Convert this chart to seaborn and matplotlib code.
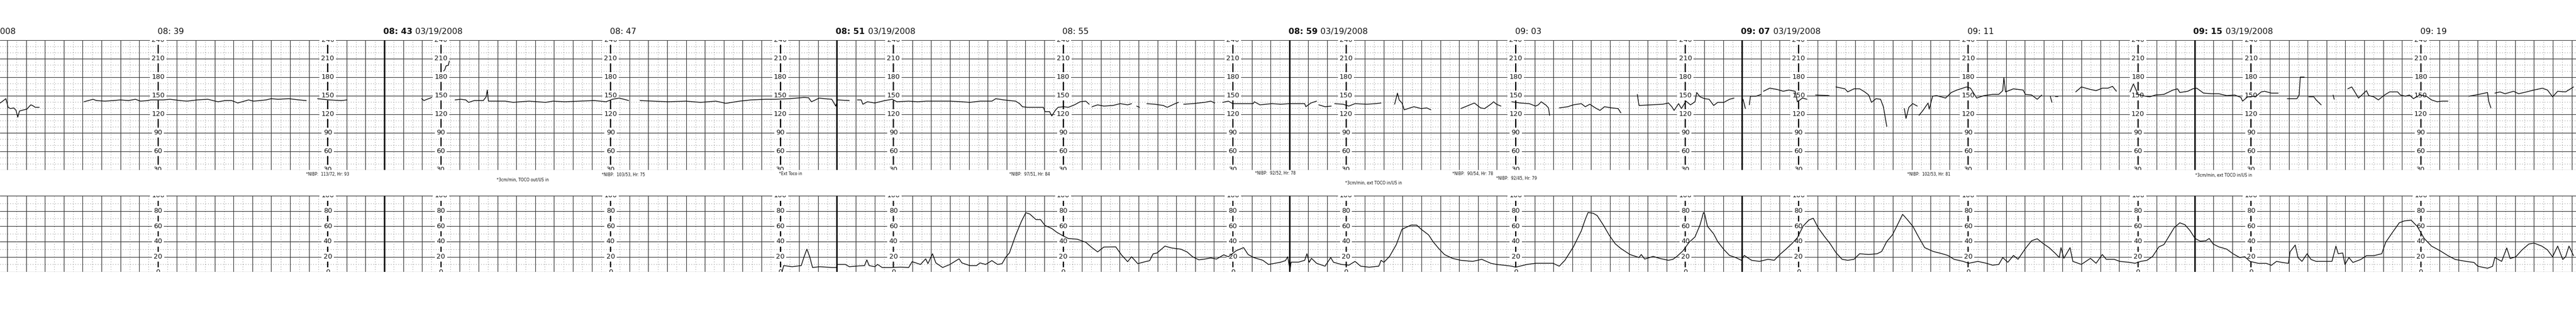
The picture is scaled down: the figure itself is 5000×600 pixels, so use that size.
import numpy as np
import pandas as pd
import matplotlib
matplotlib.use("Agg")
import matplotlib.pyplot as plt
import seaborn as sns

nan = np.nan

# ---------------- data (minutes after 08:00) ----------------
fhr_time = [
    36.21, 36.31, 36.35, 36.39, 36.45, 36.49, 36.52, 36.55, 36.59, 36.63, 36.68, 36.71, 36.75, 36.78, 36.83, 36.90, nan,
    37.69, 37.85, 37.91, 38.06, 38.21, 38.33, 38.48, 38.60, 38.69, 38.82, 38.87, 39.09, 39.21, 39.39, 39.51, 39.69,
    39.88, 40.06, 40.19, 40.30, 40.41, 40.60, 40.69, 40.91, 41.00, 41.12, 41.31, 41.49, 41.62, nan,
    41.82, 42.02, 42.24, 42.34, nan,
    43.66, 43.70, 43.84, nan,
    44.05, 44.07, 44.09, 44.13, 44.15, nan,
    44.25, 44.35, 44.44, 44.49, 44.59, 44.68, 44.75, 44.80, 44.82, 44.84, 44.99, 45.14, 45.28, 45.40, 45.56, 45.71,
    45.85, 45.98, 46.19, 46.45, 46.71, 46.92, 47.03, 47.15, 47.32, nan,
    47.52, 47.75, 48.02, 48.33, 48.59, 48.86, 49.04, 49.28, 49.48, 49.74, 49.90, 50.16, 50.42, 50.50, 50.55, 50.69,
    50.78, 50.91, 50.98, 51.01, 51.22, nan,
    51.36, 51.43, 51.46, 51.54, 51.67, 51.85, 51.98, 52.06, 52.27, 52.43, 52.58, 52.79, 53.00, 53.21, 53.35, 53.53,
    53.74, 53.81, 53.95, 54.05, 54.16, 54.23, 54.28, 54.37, 54.49, 54.60, 54.65, 54.68, 54.76, 54.80, 54.86, 54.91,
    55.01, 55.09, 55.20, 55.30, 55.40, 55.46, nan,
    55.51, 55.61, 55.72, 55.88, 56.01, 56.14, 56.21, nan,
    56.30, 56.35, nan,
    56.48, 56.62, 56.77, 56.84, 56.98, 57.04, nan,
    57.13, 57.29, 57.50, 57.61, 57.68, nan,
    57.82, 57.92, 58.00, 58.06, 58.36, 58.38, 58.48, 58.69, 58.85, 59.00, 59.11, 59.27, 59.29, 59.38, 59.48, nan,
    59.52, 59.63, 59.74, nan,
    59.80, 59.95, 60.05, 60.16, 60.37, 60.52, 60.62, nan,
    60.86, 60.91, 60.94, 60.99, 61.03, 61.20, 61.33, 61.43, 61.50, nan,
    62.03, 62.19, 62.27, 62.38, 62.45, 62.56, 62.61, 62.66, 62.74, nan,
    62.93, 63.08, 63.24, 63.35, 63.40, 63.45, 63.53, 63.58, 63.60, nan,
    63.77, 63.92, 64.02, 64.16, 64.23, 64.31, 64.41, 64.49, 64.57, 64.70, 64.81, 64.86, nan,
    65.15, 65.18, 65.39, 65.60, 65.70, 65.76, 65.80, 65.88, 65.93, 66.01, 66.09, 66.17, 66.20, 66.26, 66.34, 66.42,
    66.50, 66.57, 66.68, 66.78, 66.86, nan,
    67.02, 67.06, nan,
    67.13, 67.15, 67.25, 67.34, nan,
    67.38, 67.49, 67.62, 67.73, 67.83, 67.94, 67.98, 68.07, 68.15, nan,
    68.30, 68.54, nan,
    68.66, 68.82, 68.87, 68.98, 69.08, 69.17, 69.24, 69.29, 69.37, 69.45, 69.50, 69.56, nan,
    69.87, 69.90, 69.95, 70.02, 70.10, nan,
    70.13, 70.20, 70.29, 70.31, 70.37, 70.44, 70.60, 70.70, 70.80, 70.97, 71.04, 71.15, 71.28, 71.43, 71.54, 71.61,
    71.63, 71.66, 71.80, 71.97, 72.01, 72.12, 72.22, 72.30, nan,
    72.45, 72.48, nan,
    72.54, 72.58, nan,
    72.90, 73.00, 73.16, 73.26, 73.37, 73.47, 73.55, 73.62, nan,
    73.86, 73.92, 74.00, 74.13, 74.21, 74.31, 74.46, 74.62, 74.70, 74.74, 74.88, 74.97, 75.04, 75.16, 75.30, 75.43,
    75.57, 75.71, 75.82, 75.85, 75.94, 76.09, 76.18, 76.24, 76.36, 76.48, nan,
    76.64, 76.81, 76.85, 76.87, 76.94, nan,
    77.02, 77.11, 77.15, 77.24, nan,
    77.45, 77.47, nan,
    77.71, 77.78, 77.90, 78.04, 78.08, 78.17, 78.25, 78.36, 78.45, 78.59, 78.64, 78.73, 78.80, 78.87, 78.98, 79.10,
    79.19, 79.29, 79.38, 79.48, nan,
    79.85, 80.03, 80.18, 80.20, 80.24, nan,
    80.31, 80.40, 80.49, 80.64, 80.73, 80.87, 81.00, 81.15, 81.24, 81.33, 81.42, 81.56, 81.70,
]
fhr_bpm = [
    138, 145, 131, 129, 130, 126, 115, 125, 126, 127, 128, 131, 135, 134, 131, 131, nan,
    140, 144, 142, 141, 142, 143, 142, 144, 141, 142, 143, 143, 144, 142, 141, 143,
    144, 140, 142, 142, 138, 143, 141, 143, 145, 144, 145, 143, 142, nan,
    145, 143, 142, 143, nan,
    145, 142, 147, nan,
    190, 192, 198, 199, 206, nan,
    143, 144, 143, 139, 142, 142, 142, 148, 159, 141, 141, 141, 139, 140, 141, 140,
    139, 141, 140, 141, 142, 140, 144, 146, 142, nan,
    142, 141, 140, 141, 139, 141, 137.5, 141, 143, 144, 144, 145, 147, 146.5, 140, 146,
    145, 144, 133, 143, 142, nan,
    143, 143, 136, 140, 138, 142, 144, 140, 141, 140, 141, 141, 141, 140, 139, 141,
    141, 145, 143, 142, 141, 137, 132, 131, 131, 131, 131, 124, 124, 117, 126, 131,
    132, 131, 135, 140, 141, 136, nan,
    132, 135, 133, 134, 137, 135, 137, nan,
    133, 131, nan,
    137, 136, 134, 131, 137, 139, nan,
    136, 137, 139, 141, 138, nan,
    139, 141, 137, 137, 137, 140, 135, 137, 136, 137, 137, 137, 132, 138, 141, nan,
    135, 132, 133, nan,
    137, 136, 133, 137, 136, 137, 138, nan,
    136, 154, 143, 138, 127, 132, 129, 130, 127, nan,
    129, 135, 138, 130, 129, 136, 140, 136, 133, nan,
    140, 138, 137, 133, 135, 140, 135, 130, 118, nan,
    130, 132, 135, 137, 132, 136, 130, 126, 132, 130, 129, 122, nan,
    152, 134, 135, 136, 138, 132, 126, 137, 129, 141, 135, 140, 155, 148, 145, 144,
    134, 139, 139, 144, 146, nan,
    144, 129, nan,
    135, 149, 149, 152, nan,
    157, 162, 160, 157, 159, 157, 140, 146, 144, nan,
    151, 150, nan,
    164, 161, 156, 161, 161, 156, 151, 139, 145, 144, 132, 100, nan,
    129, 113, 131, 137, 133, nan,
    118, 126, 138, 128, 149, 150, 146, 155, 159, 164, 162, 146, 150, 152, 152, 158,
    179, 156, 161, 159, 152, 151, 144, 151, nan,
    149, 139, nan,
    149, 149, nan,
    156, 164, 160, 158, 162, 162, 165, 157, nan,
    156, 169, 152, 149, 148, 151, 152, 159, 161, 155, 157, 161, 162, 154, 153, 153,
    150, 151, 147, 141, 148, 149, 156, 157, 154, 154, nan,
    145, 145, 151, 180, 180, nan,
    148, 148, 143, 135, nan,
    151, 144, nan,
    161, 164, 146, 158, 150, 148, 143, 151, 156, 156, 151, 149, 151, 145, 151, 149,
    143, 140, 141, 141, nan,
    149, 152, 155, 141, 130, nan,
    154, 156, 153, 157, 153, 156, 159, 162, 159, 148, 157, 156, 164,
]

toco_time = [
    50.03, 50.06, 50.21, 50.37, 50.42, 50.47, 50.52, 50.57, 50.70, 50.91, 50.99, 51.01, 51.15, 51.22, 51.38, 51.49,
    51.53, 51.57, 51.67, 51.72, 51.80, 51.96, 52.12, 52.27, 52.33, 52.48, 52.57, 52.61, 52.69, 52.75, 52.87, 53.00,
    53.16, 53.21, 53.35, 53.47, 53.53, 53.63, 53.74, 53.84, 53.92, 53.99, 54.05, 54.16, 54.26, 54.34, 54.41, 54.52,
    54.60, 54.68, 54.80, 54.89, 55.01, 55.09, 55.25, 55.40, 55.51, 55.61, 55.72, 55.93, 56.03, 56.14, 56.21, 56.32,
    56.45, 56.53, 56.59, 56.66, 56.80, 56.92, 57.08, 57.19, 57.29, 57.40, 57.50, 57.61, 57.71, 57.84, 57.92, 58.06,
    58.19, 58.27, 58.37, 58.53, 58.63, 58.74, 58.84, 58.93, 58.97, 59.01, 59.03, 59.16, 59.27, 59.31, 59.35, 59.39,
    59.48, 59.63, 59.73, 59.78, 59.92, 60.05, 60.16, 60.26, 60.41, 60.58, 60.62, 60.67, 60.77, 60.89, 60.99, 61.15,
    61.25, 61.33, 61.46, 61.54, 61.64, 61.74, 61.88, 62.03, 62.24, 62.40, 62.56, 62.66, 62.79, 62.93, 63.00, 63.20,
    63.35, 63.51, 63.66, 63.77, 63.87, 64.02, 64.16, 64.23, 64.28, 64.37, 64.44, 64.55, 64.65, 64.76, 64.86, 65.02,
    65.18, 65.22, 65.28, 65.43, 65.54, 65.70, 65.78, 65.85, 65.96, 66.06, 66.17, 66.26, 66.32, 66.34, 66.39, 66.50,
    66.57, 66.68, 66.78, 66.89, 66.99, 67.04, 67.17, 67.31, 67.46, 67.57, 67.67, 67.77, 67.88, 67.98, 68.08, 68.18,
    68.26, 68.35, 68.45, 68.56, 68.66, 68.77, 68.87, 68.98, 69.08, 69.24, 69.39, 69.47, 69.56, 69.66, 69.77, 69.84,
    69.92, 70.02, 70.13, 70.23, 70.38, 70.52, 70.64, 70.75, 70.91, 71.01, 71.17, 71.32, 71.43, 71.54, 71.61, 71.70,
    71.80, 71.88, 72.01, 72.12, 72.22, 72.33, 72.43, 72.54, 72.61, 72.64, 72.69, 72.80, 72.85, 73.00, 73.16, 73.26,
    73.37, 73.44, 73.58, 73.68, 73.84, 73.95, 74.05, 74.16, 74.26, 74.37, 74.46, 74.55, 74.64, 74.74, 74.83, 74.92,
    75.01, 75.10, 75.20, 75.26, 75.33, 75.43, 75.57, 75.68, 75.80, 75.89, 75.98, 76.13, 76.27, 76.36, 76.45, 76.55,
    76.66, 76.69, 76.78, 76.83, 76.90, 76.99, 77.06, 77.15, 77.29, 77.43, 77.50, 77.54, 77.62, 77.66, 77.73, 77.80,
    77.94, 78.04, 78.17, 78.31, 78.38, 78.50, 78.62, 78.71, 78.83, 78.94, 79.06, 79.19, 79.34, 79.48, 79.61, 79.80,
    79.94, 80.01, 80.18, 80.27, 80.31, 80.43, 80.52, 80.58, 80.68, 80.79, 80.91, 81.00, 81.14, 81.24, 81.33, 81.42,
    81.51, 81.56, 81.62, 81.70,
]
toco_value = [
    0, 8.5, 7, 8.5, 20, 30, 20, 6, 7, 6, 6, 10, 10, 7, 8, 8.5,
    16, 8.5, 7, 10, 6, 6, 6.5, 6, 13.6, 10, 17.4, 11, 24, 12, 6, 10,
    17.4, 12, 8.5, 8.5, 12, 10, 15, 10, 11, 20, 25, 48, 66, 77.7, 76, 68.7,
    68.7, 61, 57, 52, 47, 44, 43, 39, 32, 26.4, 32.8, 33, 22.6, 13.6, 20, 11,
    13.6, 15, 23.8, 25, 34, 31.5, 30, 26.4, 20, 16, 17, 18.5, 17, 22.6, 20, 28,
    32, 23, 19, 15.4, 10, 11.5, 12.8, 15, 20, 2.6, 13, 13, 15.4, 24, 12.8, 18,
    11.5, 7.7, 19, 12.8, 10, 9, 14, 7.7, 6.4, 7.7, 15.4, 12.8, 20.5, 36, 56, 61.5,
    61.5, 56, 48.7, 39.7, 30.8, 23, 18, 15.4, 14, 16.7, 11.5, 10, 9, 7.7, 6.4, 10,
    11.5, 11.5, 11.5, 7.7, 15.4, 33, 54, 69, 78, 77, 74, 61.5, 48.7, 37, 30.8, 23,
    19, 23, 17, 20.5, 18, 15.4, 16.7, 20.5, 28, 38.5, 46, 62, 78, 76, 60, 50,
    40, 29.5, 21.8, 19, 15.4, 21.8, 15.4, 14, 16.7, 15.4, 23, 29.5, 37, 45, 60, 68,
    70.5, 57.7, 47.4, 37, 25.6, 16.7, 15.4, 16.7, 24, 23, 24, 27, 40, 48.7, 65, 75.6,
    69, 60, 45, 32, 27, 24.4, 21.8, 16.7, 14, 11.5, 14, 11.5, 9, 10, 19, 12.8,
    21.8, 16.7, 30.8, 41, 43.6, 37, 32, 24.4, 19, 32, 18, 32, 14, 10, 18, 11.5,
    23, 16.7, 16.7, 14, 12.8, 11.5, 14, 15.4, 20.5, 33, 36, 47, 58, 64.5, 62, 54.4,
    44, 40.5, 41, 44, 36.7, 33, 30, 24, 19, 20, 14, 11.4, 11.4, 8.9, 14, 12.6,
    11.4, 26.6, 35.4, 19, 14, 24, 16.5, 14, 14, 14, 34, 24, 25, 10, 19, 12.6,
    16.5, 21.5, 21.5, 24, 39, 52, 64.5, 67, 68, 59.5, 44, 34, 28, 21.5, 16.5, 14,
    12.6, 7.6, 5, 7.6, 19, 14, 31.6, 17.7, 20, 29, 36.7, 38, 34, 29, 20, 34,
    16.5, 20, 34, 21.5,
]

fhr_ticks = [30, 60, 90, 120, 150, 180, 210, 240]
toco_ticks = [0, 20, 40, 60, 80, 100]
scale_minutes = [39, 42, 44, 47, 50, 52, 55, 58, 60, 63, 66, 68, 71, 74, 76, 79]
page_minutes = [35, 43, 51, 59, 67, 75]
page_labels = ["08: 43", "08: 51", "08: 59", "09: 07", "09: 15"]
mid_minutes = [39, 47, 55, 63, 71, 79]
mid_labels = ["08: 39", "08: 47", "08: 55", "09: 03", "09: 11", "09: 19"]
date_text = "03/19/2008"
edge_fragment = "008"   # visible tail of the 08:35 page stamp at the left edge

note_minutes = [41.62, 44.99, 46.84, 49.98, 54.05, 58.39, 59.99, 61.88, 62.65, 69.92, 75.01]
note_level = [22.2, 13.1, 21.4, 23.1, 22.2, 24.0, 8.1, 23.1, 15.6, 22.2, 20.6]
note_texts = [
    "*NIBP:  113/72, Hr: 93",
    "*3cm/min, TOCO out/US in",
    "*NIBP:  103/53, Hr: 75",
    "*Ext Toco in",
    "*NIBP:  97/51, Hr: 84",
    "*NIBP:  92/52, Hr: 78",
    "*3cm/min, ext TOCO in/US in",
    "*NIBP:  90/54, Hr: 78",
    "*NIBP:  92/45, Hr: 79",
    "*NIBP:  102/53, Hr: 81",
    "*3cm/min, ext TOCO in/US in",
]

# ---------------- styling ----------------
sns.set_theme(style="white")
plt.rcParams["font.family"] = ["DejaVu Sans"]

XMIN, XMAX = 36.206, 81.744
fig = plt.figure(figsize=(50, 6), dpi=100, facecolor="white")
ax_f = fig.add_axes([0, 0.4508, 1, 0.4197])
ax_t = fig.add_axes([0, 0.1195, 1, 0.2472])

SOLID = dict(color="#303030", lw=0.85, zorder=1)
DOT = dict(color="#6a6a6a", lw=0.7, linestyle=(0, (1, 4)), zorder=1)


def draw_paper(ax, lo, hi, major, minor):
    ax.set_xlim(XMIN, XMAX)
    ax.set_ylim(lo, hi)
    ax.set_axis_off()
    for v in np.arange(lo, hi + 0.1, minor):
        if abs((v - lo) % major) < 1e-6:
            ax.axhline(v, **SOLID)
        else:
            ax.axhline(v, **DOT)
    k0, k1 = int(np.floor(XMIN * 6)), int(np.ceil(XMAX * 6))
    for k in range(k0, k1 + 1):
        t = k / 6.0
        if k % 2 == 0:
            ax.axvline(t, **SOLID)
        else:
            ax.axvline(t, **DOT)
    for t in page_minutes:
        ax.axvline(t, color="black", lw=2.0, zorder=2)
    for t in scale_minutes:
        ax.axvline(t, color="black", lw=1.7, zorder=2)


def draw_scale(ax, ticks):
    for t in scale_minutes:
        for v in ticks:
            ax.text(t, v, str(v), ha="center", va="center", fontsize=9.5,
                    color="#111111", zorder=3, clip_on=True,
                    bbox=dict(boxstyle="square,pad=0.25", fc="white", ec="none"))


draw_paper(ax_f, 30, 240, 30, 10)
draw_paper(ax_t, 0, 100, 20, 10)
draw_scale(ax_f, fhr_ticks)
draw_scale(ax_t, toco_ticks)


def segments(t, v):
    df = pd.DataFrame({"t": t, "v": v})
    df["seg"] = df["v"].isna().cumsum()
    return df.dropna()


fhr_df = segments(fhr_time, fhr_bpm)
toco_df = segments(toco_time, toco_value)
sns.lineplot(data=fhr_df, x="t", y="v", units="seg", estimator=None, sort=False,
             color="black", lw=1.0, ax=ax_f, legend=False, zorder=4)
sns.lineplot(data=toco_df, x="t", y="v", units="seg", estimator=None, sort=False,
             color="black", lw=1.0, ax=ax_t, legend=False, zorder=4)
for ax in (ax_f, ax_t):
    ax.set_xlim(XMIN, XMAX)
    ax.set_axis_off()
ax_f.set_ylim(30, 240)
ax_t.set_ylim(0, 100)

# time stamps
ax_f.text(XMIN, 253.3, edge_fragment, ha="left", va="center", fontsize=11.5,
          color="#111111", clip_on=False)
for t, lab in zip(page_minutes[1:], page_labels):
    ax_f.text(t - 0.02, 253.3, lab, ha="left", va="center", fontsize=11.5,
              fontweight="bold", color="#111111", clip_on=False)
    ax_f.text(t + 0.55, 253.3, date_text, ha="left", va="center", fontsize=11.5,
              color="#111111", clip_on=False)
for t, lab in zip(mid_minutes, mid_labels):
    ax_f.text(t - 0.01, 253.3, lab, ha="left", va="center", fontsize=11.5,
              color="#111111", clip_on=False)

# event notes
for t, lv, txt in zip(note_minutes, note_level, note_texts):
    ax_f.text(t, lv, txt, ha="left", va="center", fontsize=5.5,
              color="#111111", clip_on=False)

fig.savefig("out.png", dpi=100, facecolor="white")
